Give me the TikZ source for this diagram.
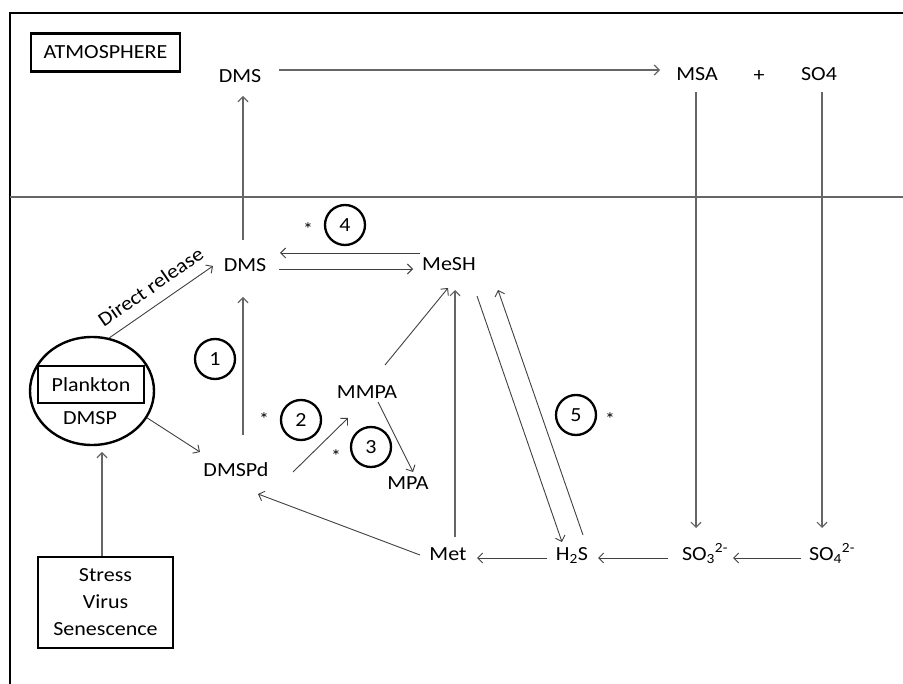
\documentclass[tikz,border=0pt]{standalone}
\usepackage{fontspec}
\setmainfont{Carlito}[FakeStretch=1.1]
\usetikzlibrary{arrows.meta,calc,shapes.geometric}
\definecolor{conngray}{HTML}{404040}
\definecolor{atmgray}{HTML}{666666}
\begin{document}
\begin{tikzpicture}[x=1pt,y=-1pt,
  every node/.style={font=\fontsize{20}{24}\selectfont, inner sep=0pt},
  lbl/.style={text height=12.9pt, text depth=0pt},
  conn/.style={draw=conngray, line width=0.9pt, -{Straight Barb[length=5pt,width=10pt]}},
  atmconn/.style={draw=atmgray, line width=1.2pt, -{Straight Barb[length=5pt,width=10pt]}},
  num/.style={circle, draw=black, line width=2.3pt, minimum size=40pt},
  star/.style={font=\fontsize{18}{20}\selectfont},
  blackbox/.style={draw=black, line width=2.4pt, align=center}]
\useasboundingbox (0,0) rectangle (903,684);
% frame and separator
\draw[black, line width=2.4pt] (10,700) -- (10,13) -- (920,13);
\draw[atmgray, line width=1.4pt] (10,197) -- (920,197);

% nodes
\node[blackbox, minimum width=149pt, minimum height=38pt] (atm) at (105.5,52.5) {ATMOSPHERE};
\node[lbl] (dmsa) at (240,76) {DMS};
\node[lbl] (msa) at (697,74) {MSA};
\node[lbl] (plus) at (759,75) {+};
\node[lbl] (so4a) at (819,74) {SO4};
\node[lbl] (dmsw) at (245,265) {DMS};
\node[lbl] (mesh) at (449,264) {MeSH};
\node[lbl] (mmpa) at (367,392) {MMPA};
\node[lbl] (dmspd) at (236,470) {DMSPd};
\node[lbl] (mpa) at (408,483) {MPA};
\node[lbl] (met) at (448,554) {Met};
\node[lbl] (h2s) at (572,554) {H\textsubscript{2}S};
\node[lbl] (so3) at (705,554) {SO\textsubscript{3}\textsuperscript{2-}};
\node[lbl] (so4) at (832,554) {SO\textsubscript{4}\textsuperscript{2-}};

\node[ellipse, draw=black, line width=2.4pt, minimum width=124pt, minimum height=108pt] (plk) at (92,391) {};
\node[blackbox, minimum width=106pt, minimum height=37pt] (plkbox) at (91,384.5) {Plankton};
\node[lbl] (dmsp) at (90,418) {DMSP};

\node[blackbox, minimum width=135pt, minimum height=91pt, font=\fontsize{20}{27}\selectfont] (stress) at (105.5,602.5) {Stress\\Virus\\Senescence};

\node[num] (n1) at (215,359) {1};
\node[num] (n2) at (301,420) {2};
\node[num] (n3) at (371,447) {3};
\node[num] (n4) at (345,225) {4};
\node[num] (n5) at (576,415) {5};
\node[star] (s4) at (308,229) {*};
\node[star] (s2) at (264,419) {*};
\node[star] (s3) at (336,456) {*};
\node[star] (s5) at (610,419) {*};

% connectors
\draw[atmconn] ($(dmsa)+(39,-6)$) -- ($(msa)+(-37,-4)$);
\draw[atmconn] ($(msa)+(-1,18)$) -- ($(so3)+(-9,-26)$);
\draw[atmconn] ($(so4a)+(3,18)$) -- ($(so4)+(-10,-26)$);
\draw[atmconn] ($(dmsw)+(-2,-25)$) -- ($(dmsa)+(3,20)$);

\draw[conn] ($(dmsw)+(34,4)$) -- ($(mesh)+(-36,5)$);
\draw[conn] ($(mesh)+(-29,-11)$) -- ($(dmsw)+(35,-12)$);
\draw[conn] (plk.72) -- node[midway, sloped, above=11pt] (dr) {Direct release} ($(dmsw)+(-32,1)$);
\draw[conn] (plk.-26) -- ($(dmspd)+(-36,-18)$);
\draw[atmconn] ($(dmspd)+(7,-35)$) -- ($(dmsw)+(-2,32)$);
\draw[conn] ($(dmspd)+(57,2)$) -- ($(mmpa)+(-19,26)$);
\draw[conn] ($(mmpa)+(18,-27)$) -- ($(mesh)+(-1,24)$);
\draw[conn] ($(mmpa)+(11,10)$) -- ($(mpa)+(5,-11)$);
\draw[conn] ($(met)+(-28,1)$) -- ($(dmspd)+(22,24)$);
\draw[atmconn] ($(met)+(7,-17)$) -- ($(mesh)+(6,26)$);
\draw[conn] ($(h2s)+(-25,4)$) -- ($(met)+(29,4)$);
\draw[conn] ($(mesh)+(28,32)$) -- ($(h2s)+(-10,-12)$);
\draw[conn] ($(h2s)+(11,-19)$) -- ($(mesh)+(49,26)$);
\draw[conn] ($(so3)+(-37,4)$) -- ($(h2s)+(26,4)$);
\draw[conn] ($(so4)+(-31,4)$) -- ($(so3)+(28,4)$);
\draw[atmconn] ([xshift=-3.5pt]stress.north) -- ($(plk)+(10,61)$);
\end{tikzpicture}
\end{document}
